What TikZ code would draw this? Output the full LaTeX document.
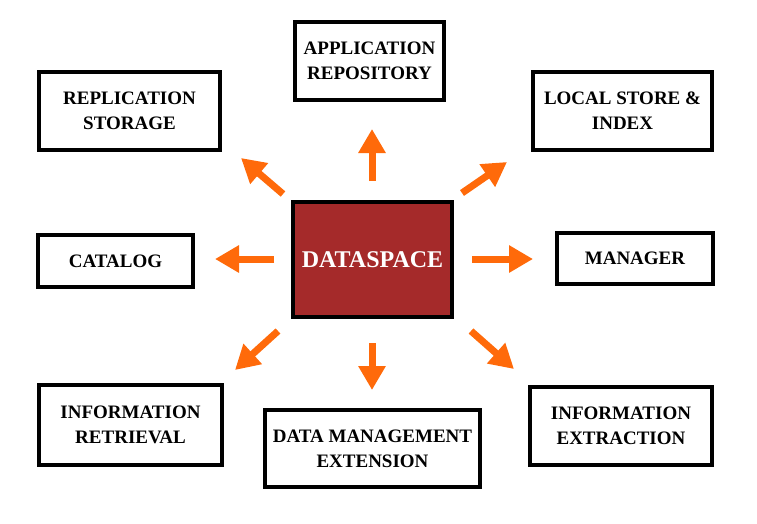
\documentclass[tikz,border=0pt]{standalone}
\usepackage{fontspec}
\setmainfont{Liberation Serif}
\usepackage{tikz}
\usetikzlibrary{arrows.meta}
\usetikzlibrary{positioning}

\definecolor{dsred}{HTML}{A52A2A}
\definecolor{arrorange}{HTML}{FF6A0A}

\tikzset{
	box/.style={draw, line width=3.8pt, align=center, inner sep=0pt,
		font=\bfseries\fontsize{19}{25}\selectfont},
	arr/.style={draw=arrorange, line width=7pt,
		-{Triangle[length=24pt, width=26pt, fill=arrorange]}}
}

\begin{document}
\begin{tikzpicture}[x=1pt,y=-1pt]
	\useasboundingbox (0,0) rectangle (757,523);
	\node [box, fill=dsred, text=white, minimum width=159pt, minimum height=115pt,
		font=\bfseries\fontsize{24}{28}\selectfont] at (372.5,259.5) (DS) {DATASPACE};
	\node [box, minimum width=149pt, minimum height=78pt] at (369.5,61) (APP) {APPLICATION\\REPOSITORY};
	\node [box, minimum width=181pt, minimum height=78pt] at (129.5,111) (REP) {REPLICATION\\STORAGE};
	\node [box, minimum width=179pt, minimum height=78pt] at (622.5,111) (LOC) {LOCAL STORE \&\\INDEX};
	\node [box, minimum width=155pt, minimum height=52pt] at (115.5,261) (CAT) {CATALOG};
	\node [box, minimum width=156pt, minimum height=51pt] at (635,258.5) (MGR) {MANAGER};
	\node [box, minimum width=183pt, minimum height=80pt] at (130.5,425) (IR) {INFORMATION\\RETRIEVAL};
	\node [box, minimum width=215pt, minimum height=77pt] at (372.5,448.5) (DME) {DATA MANAGEMENT\\EXTENSION};
	\node [box, minimum width=182pt, minimum height=78pt] at (621,426) (IE) {INFORMATION\\EXTRACTION};
	% arrow ends
	\coordinate (nT) at (372,181); \coordinate (nH) at (372,129);
	\coordinate (sT) at (372,343); \coordinate (sH) at (372,390);
	\coordinate (wT) at (274,259); \coordinate (wH) at (215,259);
	\coordinate (eT) at (472,259); \coordinate (eH) at (533,259);
	\coordinate (nwT) at (283,194); \coordinate (nwH) at (241,158);
	\coordinate (neT) at (462,193); \coordinate (neH) at (507,162);
	\coordinate (swT) at (278,331); \coordinate (swH) at (235,370);
	\coordinate (seT) at (471,331); \coordinate (seH) at (514,369);
	\foreach \d in {n,s,w,e,nw,ne,sw,se}
		\draw [arr] (\d T) -- (\d H);
\end{tikzpicture}
\end{document}
